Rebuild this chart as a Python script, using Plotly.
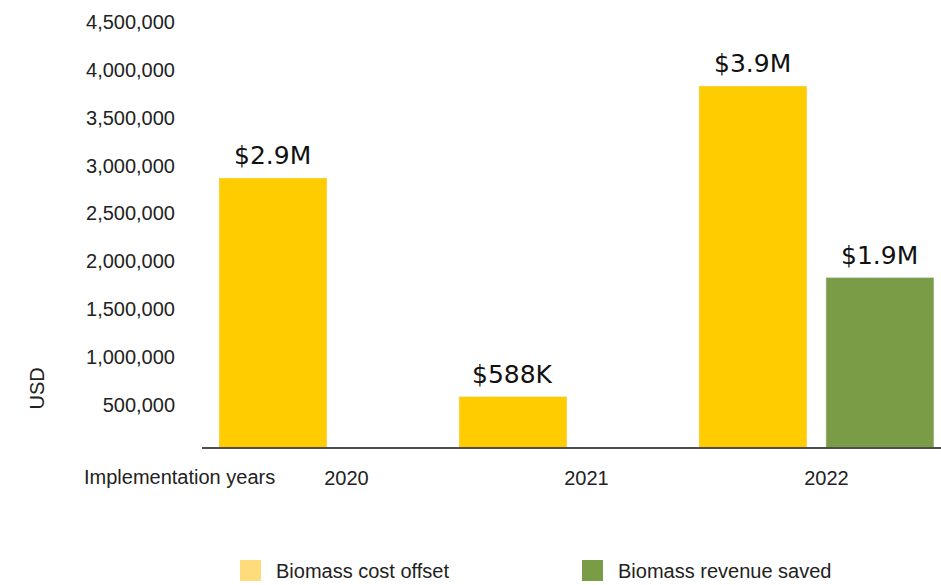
import plotly.graph_objects as go

years = ["2020", "2021", "2022"]
cost_offset = [2870000, 588000, 3830000]
revenue_saved = [None, None, 1830000]
cost_labels = ["$2.9M", "$588K", "$3.9M"]
revenue_labels = [None, None, "$1.9M"]
series_names = ["Biomass cost offset", "Biomass revenue saved"]
y_ticks = [500000, 1000000, 1500000, 2000000, 2500000, 3000000, 3500000, 4000000, 4500000]

YELLOW = "#FFCC00"
YELLOW_LIGHT = "#FEDC7C"
GREEN = "#7A9C47"
TXT = "#222222"

W, H = 941, 585
L, R, T, B = 202, 0, 10, 138

fig = go.Figure()
fig.add_trace(go.Bar(x=years, y=cost_offset, name=series_names[0], marker_color=YELLOW,
                     width=0.45, offset=-0.4896, showlegend=False))
fig.add_trace(go.Bar(x=years, y=revenue_saved, name=series_names[1], marker_color=GREEN,
                     width=0.45, offset=0.0396, showlegend=False))

# value labels (x given as category index)
for ys, labs, shift in [(cost_offset, cost_labels, -63.5), (revenue_saved, revenue_labels, 63.5)]:
    for i, (y, lab) in enumerate(zip(ys, labs)):
        if y is None or lab is None:
            continue
        fig.add_annotation(x=i, y=y, text=lab, showarrow=False, xshift=shift, yshift=6,
                           yanchor="bottom", xanchor="center",
                           font=dict(family="DejaVu Sans", size=25, color="#111111"))

pw = W - L - R
ph = H - T - B
# "Implementation years" label
fig.add_annotation(xref="paper", yref="paper", x=(82 - L) / pw, y=(H - B - 476.5) / ph,
                   text="Implementation years", showarrow=False, xanchor="left", yanchor="middle",
                   font=dict(family="Liberation Sans", size=20, color=TXT))
# y axis title
fig.add_annotation(xref="paper", yref="paper", x=(36.5 - L) / pw, y=(H - B - 389) / ph,
                   text="USD", showarrow=False, xanchor="center", yanchor="middle", textangle=-90,
                   font=dict(family="Liberation Sans", size=20, color=TXT))

# custom legend
legend_items = [(series_names[0], YELLOW_LIGHT, 240), (series_names[1], GREEN, 582)]
for name, col, px in legend_items:
    x0 = (px - L) / pw
    x1 = (px + 21 - L) / pw
    y0 = (H - B - 581) / ph
    y1 = (H - B - 560) / ph
    fig.add_shape(type="rect", xref="paper", yref="paper", x0=x0, x1=x1, y0=y0, y1=y1,
                  fillcolor=col, line=dict(width=0))
    fig.add_annotation(xref="paper", yref="paper", x=(px + 34 - L) / pw, y=(H - B - 570.5) / ph,
                       text=name, showarrow=False, xanchor="left", yanchor="middle",
                       font=dict(family="Liberation Sans", size=20, color=TXT))

y0v = (452.9 - (H - B)) / 95.8 * 1e6
y1v = (452.9 - T) / 95.8 * 1e6

fig.update_layout(
    width=W, height=H,
    margin=dict(l=L, r=R, t=T, b=B, pad=0),
    paper_bgcolor="white", plot_bgcolor="white",
    barmode="overlay",
    font=dict(family="Liberation Sans", size=20, color=TXT),
    xaxis=dict(type="category", range=[-0.5604, 2.519], showline=True, linecolor="#4D4D4D",
               linewidth=2, showgrid=False, zeroline=False, ticks="", ticklabelshift=10,
               ticklabelstandoff=12, tickfont=dict(family="Liberation Sans", size=20, color=TXT)),
    yaxis=dict(range=[y0v, y1v], showgrid=False, zeroline=False, showline=False,
               tickvals=y_ticks, tickformat=",d", ticks="", ticklabelstandoff=26,
               tickfont=dict(family="Liberation Sans", size=20, color=TXT)),
)

fig.write_html("out.html")
